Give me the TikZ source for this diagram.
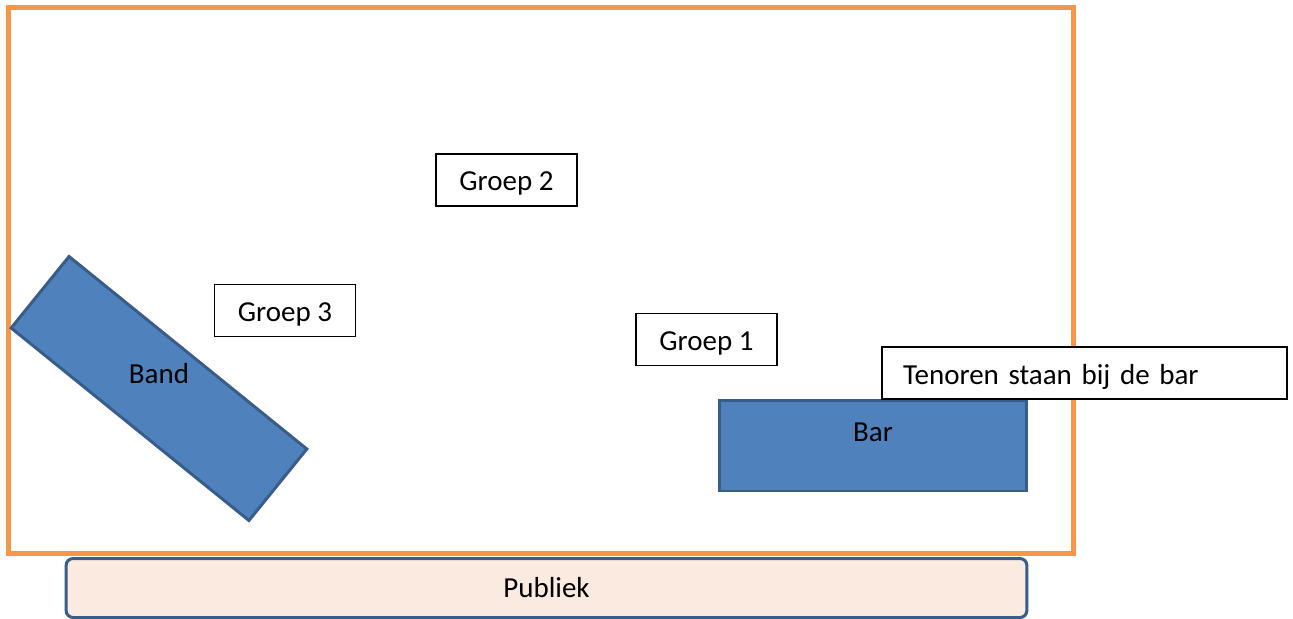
\documentclass[tikz,border=0pt]{standalone}
\usepackage{fontspec}
\setmainfont{Carlito}
\usetikzlibrary{positioning}
\definecolor{zaal}{HTML}{F79646}
\definecolor{blauw}{HTML}{4F81BD}
\definecolor{blauwrand}{HTML}{385D8A}
\definecolor{publiekkleur}{HTML}{FBEADF}

\begin{document}
\begin{tikzpicture}
          [x=0.02cm, y=-0.02cm, font=\fontsize{16.5}{20}\selectfont,
           groep/.style = {draw, line width=0.85pt, minimum width=2.82cm, minimum height=1.04cm, inner sep=0pt, text height=0.57cm, text depth=0.13cm},
           blok/.style = {draw=blauwrand, fill=blauw, line width=1.7pt, inner sep=0pt}]
          \useasboundingbox (0,0) rectangle (1293,618);
          % de zaal
          \draw[zaal, line width=2.85pt] (8.5,7.5) rectangle (1073,553);
          \node[draw=blauwrand, fill=publiekkleur, line width=1.7pt, rounded corners=4pt, minimum width=19.22cm, minimum height=1.18cm] (publiek) at (546.5,588) {Publiek};

          \node[groep] (groep2) at (506.5,180) {Groep 2};
          \node[groep] (groep3) at (285,310.5) {Groep 3};
          \node[groep] (groep1) at (706.5,339.5) {Groep 1};

          \node[blok, rotate=-39, minimum width=6.12cm, minimum height=1.84cm] (band) at (159,388.5) {};
          \node (bandtekst) at (159,374) {Band};

          \node[blok, minimum width=6.16cm, minimum height=1.82cm, label={[anchor=north, yshift=-0.36cm]north:Bar}] (bar) at (873,445.5) {};
          \node[groep, fill=white, minimum width=8.1cm, text width=7.26cm, align=left, inner xsep=0.42cm] (tenoren) at (1084.5,373) {Tenoren staan bij de bar};
\end{tikzpicture}
\end{document}
